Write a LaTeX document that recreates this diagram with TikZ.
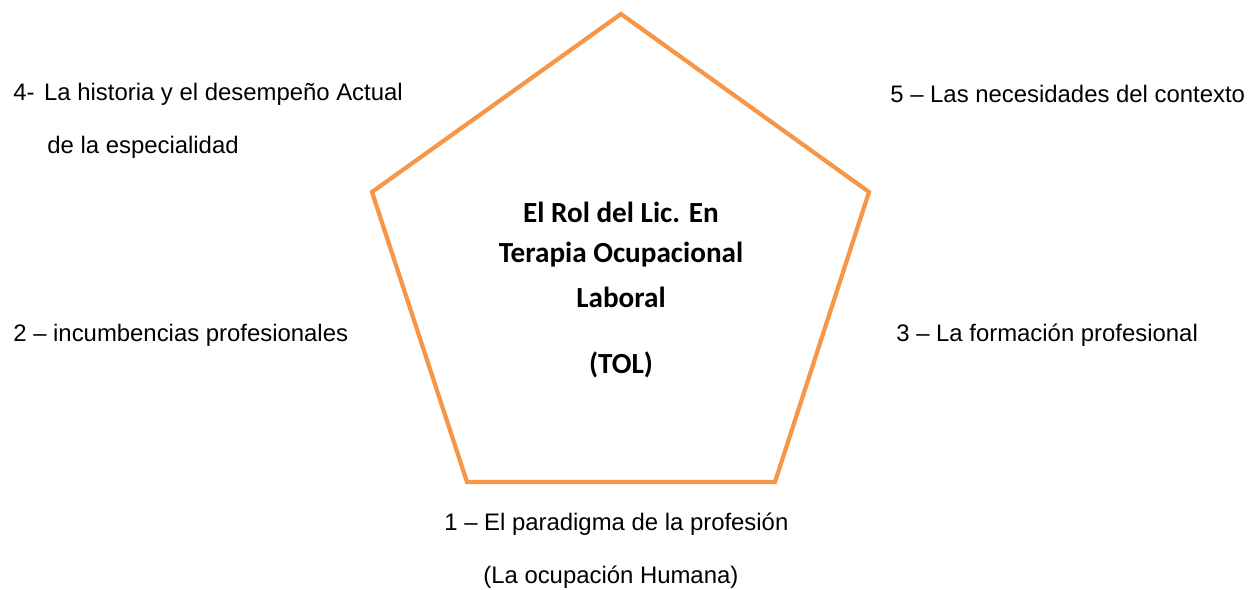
\documentclass[tikz,border=0pt]{standalone}
\usepackage{fontspec}
\setmainfont{Liberation Sans}
\newfontfamily\calibri{Carlito}
\usepackage{xcolor}
\definecolor{colorPenta}{HTML}{F79646}
\usetikzlibrary{positioning}
\tikzset{
  factor/.style={anchor=west, inner sep=0pt, font=\fontsize{13.6pt}{16pt}\selectfont},
  title/.style={inner sep=0pt, font=\calibri\bfseries\fontsize{16.6pt}{20pt}\selectfont}
}

\begin{document}
\begin{tikzpicture}[x=0.02cm, y=-0.02cm]
\useasboundingbox (0,0) rectangle (1258,590);
% pentagon corners
\coordinate (pTop) at (621,14);
\coordinate (pRight) at (869,192);
\coordinate (pBotR) at (775,482);
\coordinate (pBotL) at (467,482);
\coordinate (pLeft) at (372,192);
\draw [colorPenta, line width=2.4pt, line join=miter] (pTop) -- (pRight) -- (pBotR) -- (pBotL) -- (pLeft) -- cycle;
% centre text
\node[title] (rol) at (621,212) {El Rol del Lic. En};
\node[title] (terapia) at (621,255) {Terapia Ocupacional};
\node[title] (laboral) at (621,297) {Laboral};
\node[title] (tol) at (621,365) {(TOL)};
% factors
\node[factor] (f4) at (13,94) {4-\hspace{0.4em}La historia y el desempeño Actual};
\node[factor] (f4b) at (47,147) {de la especialidad};
\node[factor] (f5) at (890,94) {5 – Las necesidades del contexto};
\node[factor] (f2) at (13,335) {2 – incumbencias profesionales};
\node[factor] (f3) at (896,335) {3 – La formación profesional};
\node[factor] (f1) at (444,524) {1 – El paradigma de la profesión};
\node[factor] (f1b) at (483,577) {(La ocupación Humana)};
\end{tikzpicture}
\end{document}
